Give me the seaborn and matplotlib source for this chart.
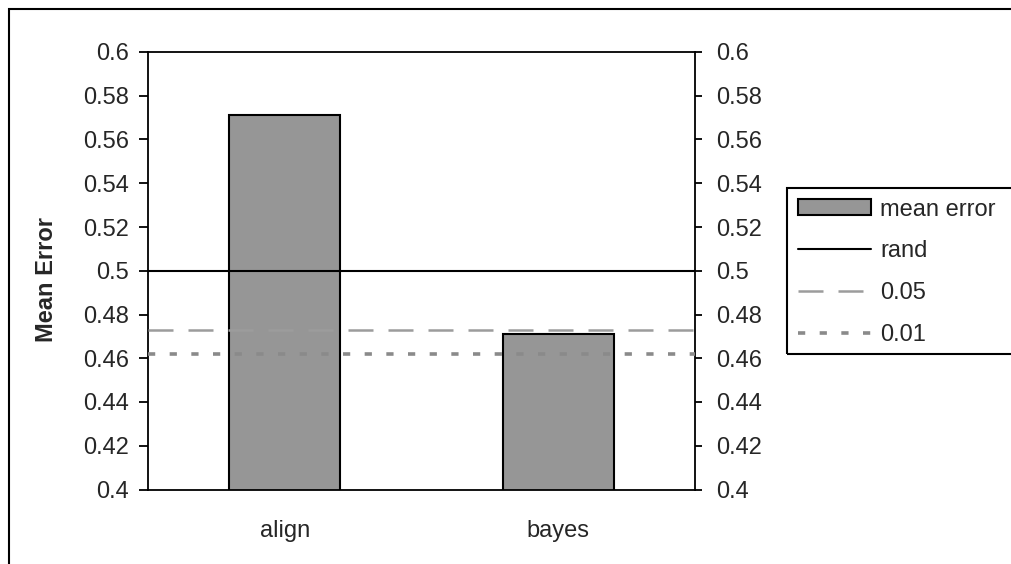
import matplotlib
matplotlib.use("Agg")
import matplotlib.pyplot as plt
from matplotlib.lines import Line2D
from matplotlib.patches import Patch, Rectangle
import seaborn as sns
import pandas as pd

# Data
methods = ["align", "bayes"]
mean_errors = [0.571, 0.471]
ref_labels = ["rand", "0.05", "0.01"]
ref_values = [0.5, 0.473, 0.462]
y_ticks = [0.4, 0.42, 0.44, 0.46, 0.48, 0.5, 0.52, 0.54, 0.56, 0.58, 0.6]
y_tick_labels = ["0.4", "0.42", "0.44", "0.46", "0.48", "0.5", "0.52", "0.54", "0.56", "0.58", "0.6"]

sns.set_style("white")
plt.rcParams["font.family"] = ["Liberation Sans", "DejaVu Sans"]

FS = 17
BAR_GRAY = "#969696"
W, H = 1012, 564

fig = plt.figure(figsize=(W / 100, H / 100), dpi=100)
ax = fig.add_axes([148 / W, 1 - 489.5 / H, 547 / W, 437.5 / H])

df = pd.DataFrame({"method": methods, "mean_error": mean_errors})
sns.barplot(data=df, x="method", y="mean_error", color=BAR_GRAY, saturation=1,
            edgecolor="black", linewidth=1.5, width=0.406, ax=ax)

# reference levels
line_styles = [
    dict(color="black", linewidth=1.5, linestyle="-"),
    dict(color="#9c9c9c", linewidth=1.8, linestyle=(0, (10, 6))),
    dict(color="#8a8a8a", linewidth=2.6, linestyle=(0, (2.0, 4.0))),
]
for val, st in zip(ref_values, line_styles):
    ax.axhline(val, **st, zorder=3)

ax.set_xlim(-0.5, 1.5)
ax.set_ylim(0.4, 0.6)
ax.set_yticks(y_ticks)
ax.set_yticklabels(y_tick_labels, fontsize=FS)
ax.set_xticks([0, 1])
ax.set_xticklabels(methods, fontsize=FS)
ax.set_xticks([-0.5, 0.5, 1.5], minor=True)
ax.tick_params(axis="x", which="major", length=0, pad=22)
ax.tick_params(axis="x", which="minor", length=6, width=1.3, color="black", direction="out")
ax.tick_params(axis="y", which="major", length=6.5, width=1.3, color="black",
               direction="out", pad=7, left=True)
ax.set_xlabel("")
ax.set_ylabel("Mean Error", fontsize=FS, fontweight="bold")
ax.yaxis.set_label_coords(-0.165, 0.48)
for sp in ax.spines.values():
    sp.set_color("black")
    sp.set_linewidth(1.3)
    sp.set_visible(True)

# matching axis on the right
ax2 = ax.twinx()
ax2.set_ylim(0.4, 0.6)
ax2.set_yticks(y_ticks)
ax2.set_yticklabels(y_tick_labels, fontsize=FS)
ax2.tick_params(axis="y", length=5, width=1.3, color="black", direction="out", pad=10, right=True)
for sp in ax2.spines.values():
    sp.set_visible(False)

# legend (its box runs off the right edge of the chart)
handles = [Patch(facecolor=BAR_GRAY, edgecolor="black", linewidth=1.5)]
handles += [Line2D([], [], **st) for st in line_styles]
labels = ["mean error"] + ref_labels
leg = fig.legend(handles, labels, loc="upper left",
                 bbox_to_anchor=(787 / W, 1 - 188 / H),
                 fontsize=FS, frameon=False, handlelength=3.1, handleheight=0.65,
                 handletextpad=0.4, labelspacing=0.84, borderpad=0.45, borderaxespad=0)
fig.add_artist(Rectangle((787 / W, 1 - 354 / H), 0.3, (354 - 188) / H,
                         transform=fig.transFigure, fill=False,
                         edgecolor="black", linewidth=1.5))

# outer chart frame
fig.add_artist(Rectangle((8.5 / W, -0.05), 1.2, 1 - 9 / H + 0.05,
                         transform=fig.transFigure, fill=False,
                         edgecolor="black", linewidth=1.5))

fig.savefig("out.png", dpi=100)
